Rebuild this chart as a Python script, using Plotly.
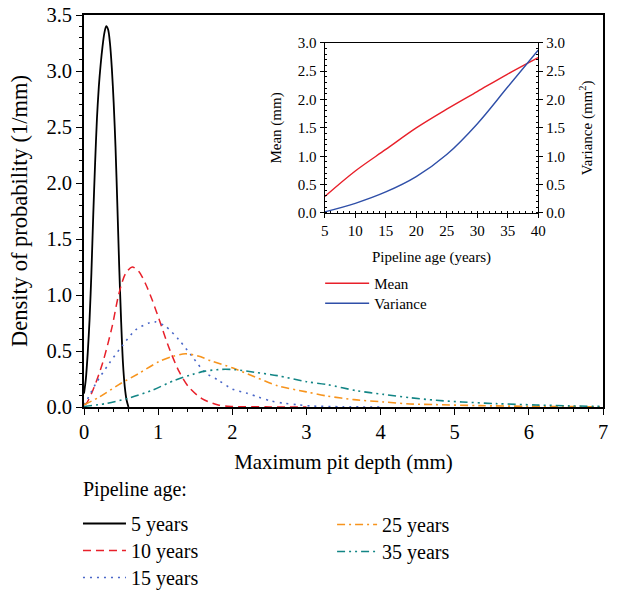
import plotly.graph_objects as go

# maximum pit depth densities (x in mm, y in 1/mm)
depth_5 = [0.00, 0.025, 0.05, 0.075, 0.10, 0.125, 0.15, 0.175, 0.20, 0.225, 0.25, 0.275, 0.30,
           0.325, 0.35, 0.375, 0.40, 0.425, 0.45, 0.475, 0.50, 0.525, 0.55, 0.575, 0.60]
dens_5 = [0.12, 0.25, 0.48, 0.78, 1.20, 1.72, 2.18, 2.58, 2.86, 3.06, 3.22, 3.34, 3.40,
          3.37, 3.25, 3.03, 2.72, 2.32, 1.80, 1.25, 0.78, 0.40, 0.18, 0.06, 0.00]

depth_10 = [0.00, 0.03, 0.12, 0.25, 0.38, 0.47, 0.56, 0.65, 0.74, 0.83, 0.92, 1.03, 1.14, 1.28, 1.41, 1.59, 1.81, 2.00, 2.50, 3.00]
dens_10 = [0.02, 0.03, 0.15, 0.39, 0.72, 1.01, 1.19, 1.25, 1.21, 1.10, 0.955, 0.75, 0.54, 0.32, 0.18, 0.075, 0.018, 0.005, 0.001, 0.0]

depth_15 = [0.00, 0.03, 0.16, 0.34, 0.52, 0.70, 0.875, 0.96, 1.10, 1.28, 1.46, 1.63, 1.81, 2.00, 2.19, 2.35, 2.52, 2.70, 2.88, 3.06, 3.50, 4.00]
dens_15 = [0.02, 0.05, 0.21, 0.39, 0.55, 0.69, 0.75, 0.76, 0.72, 0.60, 0.45, 0.31, 0.24, 0.16, 0.125, 0.089, 0.054, 0.033, 0.02, 0.009, 0.002, 0.0]

depth_25 = [0.00, 0.21, 0.47, 0.74, 1.01, 1.19, 1.37, 1.54, 1.72, 2.00, 2.30, 2.61, 3.00, 3.28, 3.64, 4.04, 4.40, 4.75, 5.34, 6.00, 7.00]
dens_25 = [0.02, 0.09, 0.20, 0.30, 0.405, 0.45, 0.475, 0.455, 0.41, 0.35, 0.27, 0.19, 0.135, 0.098, 0.066, 0.045, 0.027, 0.021, 0.012, 0.006, 0.002]

depth_35 = [0.00, 0.29, 0.61, 0.92, 1.23, 1.46, 1.63, 1.86, 2.04, 2.30, 2.61, 3.00, 3.28, 3.68, 4.04, 4.40, 4.75, 5.10, 5.56, 6.10, 6.55, 7.00]
dens_35 = [0.005, 0.03, 0.08, 0.15, 0.24, 0.29, 0.32, 0.336, 0.333, 0.31, 0.28, 0.226, 0.20, 0.145, 0.113, 0.083, 0.06, 0.045, 0.03, 0.018, 0.01, 0.005]

# inset: mean and variance against pipeline age
age = [5, 10, 15, 20, 25, 30, 35, 40]
mean_depth = [0.29, 0.74, 1.12, 1.50, 1.83, 2.14, 2.45, 2.74]
var_depth = [0.02, 0.17, 0.37, 0.64, 1.03, 1.57, 2.22, 2.87]

FONT = "Liberation Serif"

# each legend entry gets its own legend box so the row spacing can match
curves = [
    {'x': depth_5, 'y': dens_5, 'name': '5 years', 'color': 'black', 'dash': 'solid', 'width': 1.8,
     'legend': 'legend', 'lx': -0.0116, 'ly': -0.2474, 'iw': 43},
    {'x': depth_10, 'y': dens_10, 'name': '10 years', 'color': '#e8202a', 'dash': '8px,5px', 'width': 1.5,
     'legend': 'legend2', 'lx': -0.0116, 'ly': -0.3163, 'iw': 43},
    {'x': depth_15, 'y': dens_15, 'name': '15 years', 'color': '#4a67c8', 'dash': '2px,5px', 'width': 1.6,
     'legend': 'legend3', 'lx': -0.0116, 'ly': -0.3852, 'iw': 43},
    {'x': depth_25, 'y': dens_25, 'name': '25 years', 'color': '#f7941d', 'dash': '8px,4px,2px,4px', 'width': 1.6,
     'legend': 'legend4', 'lx': 0.478, 'ly': -0.2500, 'iw': 40},
    {'x': depth_35, 'y': dens_35, 'name': '35 years', 'color': '#128585', 'dash': '8px,4px,2px,4px,2px,4px', 'width': 1.6,
     'legend': 'legend5', 'lx': 0.478, 'ly': -0.3189, 'iw': 40},
]

fig = go.Figure()
legends = {}
for c in curves:
    fig.add_trace(
        go.Scatter(
            x=c['x'],
            y=c['y'],
            mode='lines',
            name=c['name'],
            line=dict(color=c['color'], dash=c['dash'], width=c['width'], shape='spline', smoothing=0.8),
            legend=c['legend']
        )
    )
    legends[c['legend']] = dict(
        x=c['lx'], y=c['ly'], xanchor='left', yanchor='top',
        font=dict(family=FONT, size=20), itemwidth=c['iw'],
        bgcolor='rgba(0,0,0,0)'
    )

fig.add_trace(
    go.Scatter(
        x=age, y=mean_depth, mode='lines', name='Mean',
        line=dict(color='#e8202a', width=1.4, shape='spline'),
        xaxis='x2', yaxis='y2', legend='legend6'
    )
)
fig.add_trace(
    go.Scatter(
        x=age, y=var_depth, mode='lines', name='Variance',
        line=dict(color='#2f4fa8', width=1.4, shape='spline'),
        xaxis='x2', yaxis='y3', legend='legend7'
    )
)
for name, ly in [('legend6', 0.3571), ('legend7', 0.3061)]:
    legends[name] = dict(
        x=0.455, y=ly, xanchor='left', yanchor='top',
        font=dict(family=FONT, size=15), itemwidth=44,
        bgcolor='rgba(0,0,0,0)'
    )

main_axis = dict(
    showline=True, linecolor='black', linewidth=1.6, mirror=True,
    ticks='outside', ticklen=6, tickwidth=1.2, tickcolor='black',
    showgrid=False, zeroline=False, automargin=False, ticklabeloverflow='allow',
    tickfont=dict(family=FONT, size=20.5, color='black'),
)
inset_axis = dict(
    showline=True, linecolor='black', linewidth=1.4,
    ticks='outside', ticklen=4, tickwidth=1, tickcolor='black',
    showgrid=False, zeroline=False, automargin=False,
    tickfont=dict(family=FONT, size=15, color='black'),
)

fig.update_layout(
    width=631,
    height=595,
    showlegend=True,
    margin=dict(l=84, r=28, t=15, b=188, autoexpand=False),
    paper_bgcolor='white',
    plot_bgcolor='white',
    font=dict(family=FONT, color='black'),
    xaxis=dict(
        **main_axis, range=[0, 7], dtick=1,
        minor=dict(dtick=0.2, ticks='outside', ticklen=3, tickcolor='black'),
        title=dict(text='Maximum pit depth (mm)', font=dict(family=FONT, size=21), standoff=12)
    ),
    yaxis=dict(
        **main_axis, range=[0, 3.5], dtick=0.5, tickformat='.1f',
        minor=dict(dtick=0.1, ticks='outside', ticklen=3, tickcolor='black'),
        title=dict(text='Density of probability (1/mm)', font=dict(family=FONT, size=22.5), standoff=13)
    ),
    xaxis2=dict(
        **inset_axis, domain=[0.464, 0.875], anchor='y2', range=[5, 40], dtick=5, mirror=True,
        minor=dict(dtick=1, ticks='inside', ticklen=2, tickcolor='black'),
        title=dict(text='Pipeline age (years)', font=dict(family=FONT, size=15), standoff=13)
    ),
    yaxis2=dict(
        **inset_axis, domain=[0.495, 0.929], anchor='x2', range=[0, 3], dtick=0.5, tickformat='.1f',
        minor=dict(dtick=0.1, ticks='inside', ticklen=2, tickcolor='black'),
        title=dict(text='Mean (mm)', font=dict(family=FONT, size=15), standoff=12)
    ),
    yaxis3=dict(
        **inset_axis, anchor='x2', overlaying='y2', side='right', range=[0, 3], dtick=0.5, tickformat='.1f',
        minor=dict(dtick=0.1, ticks='inside', ticklen=2, tickcolor='black'),
        title=dict(text='Variance (mm<sup>2</sup>)', font=dict(family=FONT, size=15), standoff=17)
    ),
    annotations=[
        dict(
            text='Pipeline age:', x=-0.006, y=-0.2117, xref='paper', yref='paper',
            xanchor='left', yanchor='middle', showarrow=False,
            font=dict(family=FONT, size=20, color='black')
        )
    ],
    **legends
)

# drop the default 8px body margin so the figure sits at the window corner
fig.write_html(
    "out.html",
    config={'displayModeBar': False},
    post_script="document.body.style.margin = '0';"
)
